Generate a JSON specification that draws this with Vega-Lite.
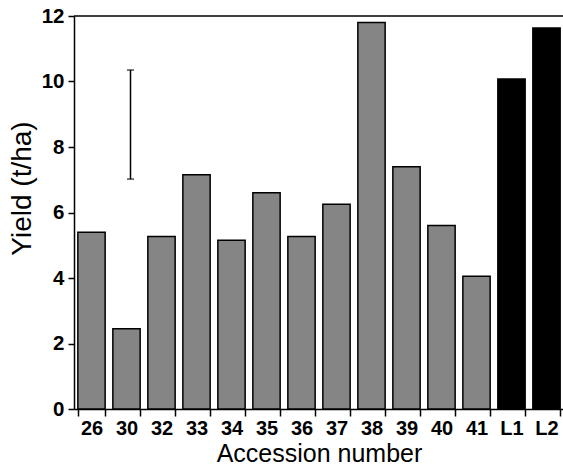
{
  "$schema": "https://vega.github.io/schema/vega-lite/v6.json",
  "width": 490,
  "height": 393,
  "autosize": "none",
  "padding": {"left": 74, "top": 16, "right": 0, "bottom": 59},
  "background": "white",
  "config": {"view": {"stroke": null}, "font": "Liberation Sans"},
  "datasets": {
    "bars": [
      {"acc": "26", "yield": 5.4, "grp": "A"},
      {"acc": "30", "yield": 2.45, "grp": "A"},
      {"acc": "32", "yield": 5.27, "grp": "A"},
      {"acc": "33", "yield": 7.15, "grp": "A"},
      {"acc": "34", "yield": 5.15, "grp": "A"},
      {"acc": "35", "yield": 6.6, "grp": "A"},
      {"acc": "36", "yield": 5.27, "grp": "A"},
      {"acc": "37", "yield": 6.25, "grp": "A"},
      {"acc": "38", "yield": 11.8, "grp": "A"},
      {"acc": "39", "yield": 7.4, "grp": "A"},
      {"acc": "40", "yield": 5.6, "grp": "A"},
      {"acc": "41", "yield": 4.05, "grp": "A"},
      {"acc": "L1", "yield": 10.08, "grp": "L"},
      {"acc": "L2", "yield": 11.63, "grp": "L"}
    ],
    "err": [{"acc": "30", "lo": 7.02, "hi": 10.35}],
    "top": [{"v": 12}]
  },
  "layer": [
    {
      "data": {"name": "bars"},
      "mark": {"type": "bar", "stroke": "black", "strokeWidth": 1.5},
      "encoding": {
        "x": {
          "field": "acc", "type": "nominal", "sort": null,
          "scale": {"paddingInner": 0.22, "paddingOuter": 0.11},
          "axis": {
            "title": "Accession number", "titleFontSize": 25, "titleFontWeight": "normal",
            "titlePadding": 3, "titleColor": "black",
            "labelAngle": 0, "labelFontSize": 20, "labelFontWeight": "bold", "labelColor": "black",
            "tickBand": "extent", "tickSize": 7, "tickColor": "black", "tickWidth": 1.5,
            "domainColor": "black", "domainWidth": 1.5, "labelPadding": 2, "grid": false
          }
        },
        "y": {
          "field": "yield", "type": "quantitative",
          "scale": {"domain": [0, 12], "nice": false},
          "axis": {
            "title": "Yield (t/ha)", "titleFontSize": 28, "titleFontWeight": "normal",
            "titlePadding": 5, "titleColor": "black", "titleY": 172,
            "values": [0, 1, 2, 3, 4, 5, 6, 7, 8, 9, 10, 11, 12],
            "labelExpr": "datum.value % 2 == 0 ? datum.label : ''",
            "labelFontSize": 20.5, "labelFontWeight": "bold", "labelColor": "black",
            "tickSize": 6, "tickColor": "black", "tickWidth": 1.5,
            "domainColor": "black", "domainWidth": 1.5, "labelPadding": 4, "grid": false
          }
        },
        "color": {
          "field": "grp", "type": "nominal",
          "scale": {"domain": ["A", "L"], "range": ["#858585", "#000000"]},
          "legend": null
        }
      }
    },
    {
      "data": {"name": "err"},
      "mark": {"type": "rule", "color": "black", "strokeWidth": 1.5, "xOffset": 4},
      "encoding": {
        "x": {"field": "acc", "type": "nominal", "sort": null},
        "y": {"field": "lo", "type": "quantitative"},
        "y2": {"field": "hi"}
      }
    },
    {
      "data": {"name": "err"},
      "mark": {"type": "tick", "color": "black", "thickness": 1.5, "size": 7, "xOffset": 4, "orient": "horizontal"},
      "encoding": {
        "x": {"field": "acc", "type": "nominal", "sort": null},
        "y": {"field": "lo", "type": "quantitative"}
      }
    },
    {
      "data": {"name": "err"},
      "mark": {"type": "tick", "color": "black", "thickness": 1.5, "size": 7, "xOffset": 4, "orient": "horizontal"},
      "encoding": {
        "x": {"field": "acc", "type": "nominal", "sort": null},
        "y": {"field": "hi", "type": "quantitative"}
      }
    },
    {
      "data": {"name": "top"},
      "mark": {"type": "rule", "color": "black", "strokeWidth": 1.5},
      "encoding": {
        "y": {"field": "v", "type": "quantitative"}
      }
    }
  ]
}
